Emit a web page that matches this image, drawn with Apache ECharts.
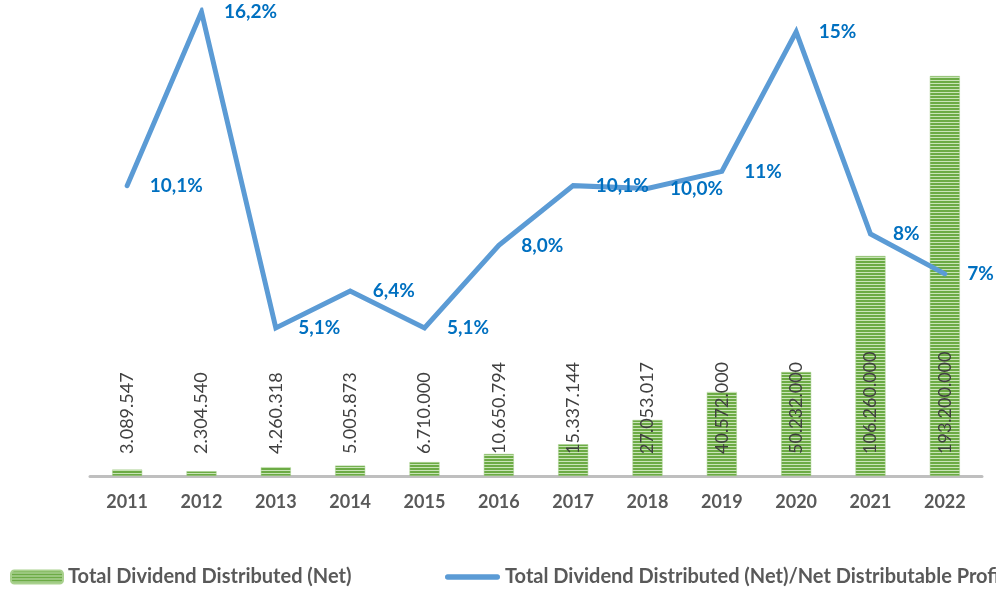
<!DOCTYPE html>
<html>
<head>
<meta charset="utf-8">
<script src="https://cdn.jsdelivr.net/npm/echarts@6/dist/echarts.min.js"></script>
<style>
html,body{margin:0;padding:0;background:#fff;}
#chart{width:996px;height:589px;}
</style>
</head>
<body>
<div id="chart"></div>
<script>
const categories = ['2011','2012','2013','2014','2015','2016','2017','2018','2019','2020','2021','2022'];
const dividendValues = [3089547, 2304540, 4260318, 5005873, 6710000, 10650794, 15337144, 27053017, 40572000, 50232000, 106260000, 193200000];
const dividendLabels = ['3.089.547','2.304.540','4.260.318','5.005.873','6.710.000','10.650.794','15.337.144','27.053.017','40.572.000','50.232.000','106.260.000','193.200.000'];
const ratioValues = [10.1, 16.2, 5.1, 6.4, 5.1, 8.0, 10.1, 10.0, 10.6, 15.5, 8.4, 7.0];
const ratioLabels = ['10,1%','16,2%','5,1%','6,4%','5,1%','8,0%','10,1%','10,0%','11%','15%','8%','7%'];
const barName = 'Total Dividend Distributed (Net)';
const lineName = 'Total Dividend Distributed (Net)/Net Distributable Profit';

// striped pattern for bars
const pat = document.createElement('canvas');
pat.width = 4; pat.height = 3;
const pctx = pat.getContext('2d');
pctx.fillStyle = '#6CAB45'; pctx.fillRect(0,0,4,2);
pctx.fillStyle = '#C9E4B7'; pctx.fillRect(0,2,4,1);
const stripe = {image: pat, repeat: 'repeat'};

const chart = echarts.init(document.getElementById('chart'), null, {renderer:'canvas'});
const font = 'Lato';
chart.setOption({
  animation: false,
  backgroundColor: '#ffffff',
  grid: {left: 90, right: 14, top: 10, bottom: 113, containLabel: false},
  legend: [
    {
      data: [{name: barName}],
      left: 10, top: 567, padding: 0, itemWidth: 52, itemHeight: 13, itemGap: 6,
      textStyle: {fontFamily: font, fontWeight: 'bold', fontSize: 20, color: '#595959'}
    },
    {
      data: [{name: lineName, icon: 'path://M2.5,0 H49.5 A2.5,2.5 0 0 1 49.5,5 H2.5 A2.5,2.5 0 0 1 2.5,0 Z'}],
      left: 445, top: 567, padding: 0, itemWidth: 55, itemHeight: 13, itemGap: 6,
      textStyle: {fontFamily: font, fontWeight: 'bold', fontSize: 20, color: '#595959'}
    }
  ],
  xAxis: {
    type: 'category',
    data: categories,
    axisLine: {lineStyle: {color: '#BFBFBF', width: 3}},
    axisTick: {show: false},
    axisLabel: {fontFamily: font, fontWeight: 'bold', fontSize: 18, color: '#595959', margin: 17}
  },
  yAxis: [
    {type: 'value', min: 0, max: 225070000, show: false, splitLine: {show: false}},
    {type: 'value', min: -0.1, max: 16.27, show: false, splitLine: {show: false}}
  ],
  series: [
    {
      name: barName,
      type: 'bar',
      yAxisIndex: 0,
      data: dividendValues,
      barWidth: 30,
      itemStyle: {color: stripe, borderColor: '#A9D18E', borderWidth: 0.5},
      label: {
        show: true,
        position: 'insideBottom',
        rotate: 90,
        align: 'left',
        verticalAlign: 'middle',
        distance: 22,
        fontFamily: font,
        fontSize: 18,
        color: '#404040',
        formatter: p => dividendLabels[p.dataIndex]
      },
      z: 1
    },
    {
      name: lineName,
      type: 'line',
      yAxisIndex: 1,
      data: ratioValues,
      symbol: 'circle',
      symbolSize: 1,
      showSymbol: true,
      itemStyle: {color: '#5B9BD5'},
      lineStyle: {color: '#5B9BD5', width: 5, cap: 'round', join: 'miter'},
      label: {
        show: true,
        position: 'right',
        distance: 22,
        fontFamily: font,
        fontWeight: 'bold',
        fontSize: 19,
        color: '#0070C0',
        formatter: p => ratioLabels[p.dataIndex]
      },
      z: 3
    }
  ]
});
</script>
</body>
</html>
